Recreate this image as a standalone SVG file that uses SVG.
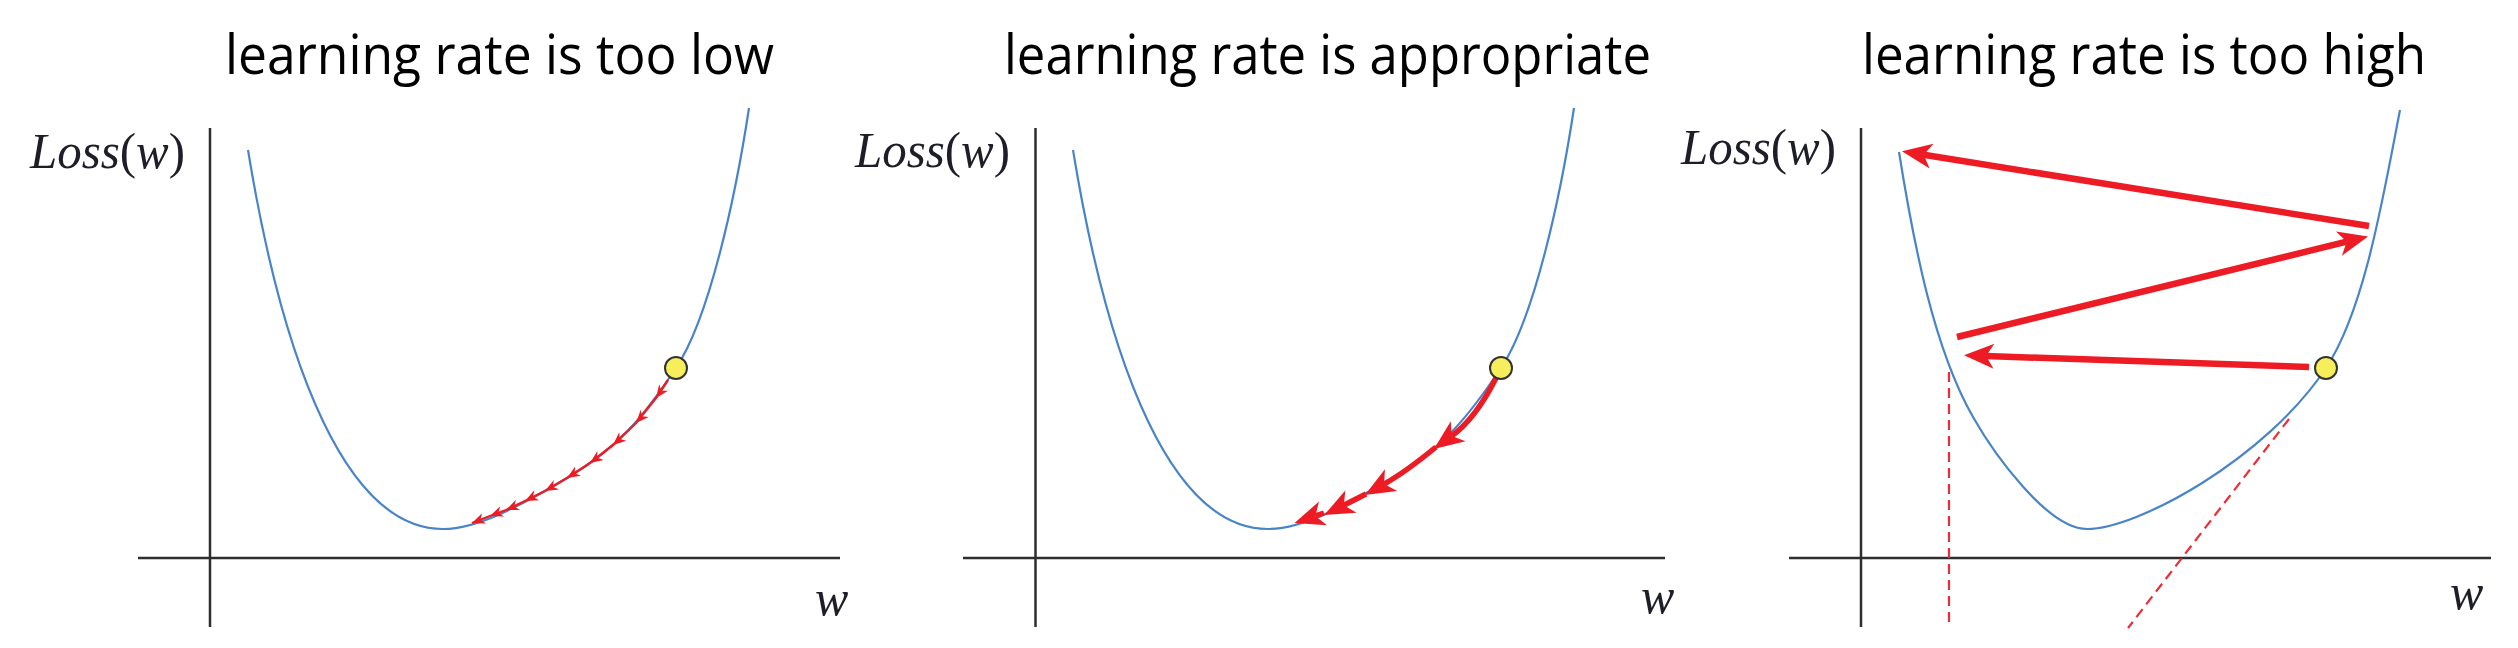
<svg xmlns="http://www.w3.org/2000/svg" width="2518" height="648" viewBox="0 0 2518 648">
<style>
.title{font-family:"Open Sans","Liberation Sans",sans-serif;font-size:54px;fill:#000}
.math{font-family:"Liberation Serif","DejaVu Serif",serif;font-size:50px;fill:#1e1e28}
.axis{stroke:#2e2e2e;stroke-width:2.5;fill:none}
.curve{stroke:#4a84c8;stroke-width:2.2;fill:none}
.dash{stroke:#ee2c32;stroke-width:2.2;stroke-dasharray:10 6;fill:none}
.thin{stroke:#ed1c24;stroke-width:2.4;fill:none}
.mid{stroke:#ed1c24;stroke-width:5.5;fill:none}
.thick{stroke:#ed1c24;stroke-width:6.5;fill:none}
.pt{fill:#f6ee5b;stroke:#333;stroke-width:2}
</style>
<defs>
<marker id="hs" markerUnits="userSpaceOnUse" viewBox="-14 -7 15 14" markerWidth="15" markerHeight="14" refX="0" refY="0" orient="auto">
<path d="M0,0 L-13,-5.5 L-9,0 L-13,5.5 Z" fill="#ed1c24"/>
</marker>
<marker id="hb" markerUnits="userSpaceOnUse" viewBox="-9 -13 32 26" markerWidth="32" markerHeight="26" refX="0" refY="0" orient="auto">
<path d="M22,0 L-8,-12.5 L0,0 L-8,12.5 Z" fill="#ed1c24"/>
</marker>
<path id="bowl" d="M248,150 C284,370 348,529 443,529 C478,529 524.2,503.7 567,478 C618.4,447.2 642.7,417.9 676,368 C709.3,318.1 735.5,197 749,108"/>
</defs>

<g id="panel-low">
<text class="title" x="225" y="74" textLength="549" lengthAdjust="spacingAndGlyphs">learning rate is too low</text>
<line class="axis" x1="138" y1="558" x2="840" y2="558"/>
<line class="axis" x1="210" y1="128" x2="210" y2="627"/>
<text class="math" x="30" y="168" textLength="155" lengthAdjust="spacingAndGlyphs"><tspan font-style="italic">Loss</tspan>(<tspan font-style="italic">w</tspan>)</text>
<text class="math" x="815" y="615" font-style="italic">w</text>
<use href="#bowl" class="curve"/>
</g>

<g id="panel-appropriate">
<text class="title" x="1004" y="74" textLength="647" lengthAdjust="spacingAndGlyphs">learning rate is appropriate</text>
<line class="axis" x1="963" y1="558" x2="1665" y2="558"/>
<line class="axis" x1="1035.5" y1="128" x2="1035.5" y2="627"/>
<text class="math" x="855" y="167" textLength="155" lengthAdjust="spacingAndGlyphs"><tspan font-style="italic">Loss</tspan>(<tspan font-style="italic">w</tspan>)</text>
<text class="math" x="1641" y="613" font-style="italic">w</text>
<use href="#bowl" class="curve" transform="translate(825,0)"/>
</g>

<g id="panel-high">
<text class="title" x="1862" y="74" textLength="564" lengthAdjust="spacingAndGlyphs">learning rate is too high</text>
<line class="axis" x1="1789" y1="558" x2="2491" y2="558"/>
<line class="axis" x1="1861" y1="128" x2="1861" y2="627"/>
<text class="math" x="1681" y="164" textLength="155" lengthAdjust="spacingAndGlyphs"><tspan font-style="italic">Loss</tspan>(<tspan font-style="italic">w</tspan>)</text>
<text class="math" x="2450" y="609" font-style="italic">w</text>
<path class="curve" d="M1899,152 C1913.4,242 1933.4,347.5 1973,417 C1992.8,451.8 2047,529 2087,529 C2137,529 2265.5,459.3 2326,368 C2364.5,309.9 2382.9,198.2 2400,110"/>
<path class="dash" d="M1949,372 L1949,627"/>
<path class="dash" d="M2289,419 L2128,628"/>
</g>

<g id="connectors">
<path class="thin" d="M668,380 L656,398 L636,423 L613,445 L590,463 L567,478 L545,491 L525,501 L506,510 L490,516 L472,523" marker-mid="url(#hs)" marker-end="url(#hs)"/>
<path class="mid" d="M1496,378 Q1475.9,418.2 1451.7,436" marker-end="url(#hb)"/>
<path class="mid" d="M1436,447 Q1405.9,471.8 1384.1,484.1" marker-end="url(#hb)"/>
<path class="mid" d="M1366,494 L1343.8,505.2" marker-end="url(#hb)"/>
<path class="mid" d="M1324,513 L1315.4,515.9" marker-end="url(#hb)"/>
<path class="thick" d="M2309,367 L1986,356" marker-end="url(#hb)"/>
<path class="thick" d="M1957,337 L2346.7,241.7" marker-end="url(#hb)"/>
<path class="thick" d="M2369,226 L1923.7,154.8" marker-end="url(#hb)"/>
</g>

<g id="points">
<circle class="pt" cx="676" cy="368" r="11"/>
<circle class="pt" cx="1501" cy="368" r="11"/>
<circle class="pt" cx="2326" cy="368" r="11"/>
</g>
</svg>
